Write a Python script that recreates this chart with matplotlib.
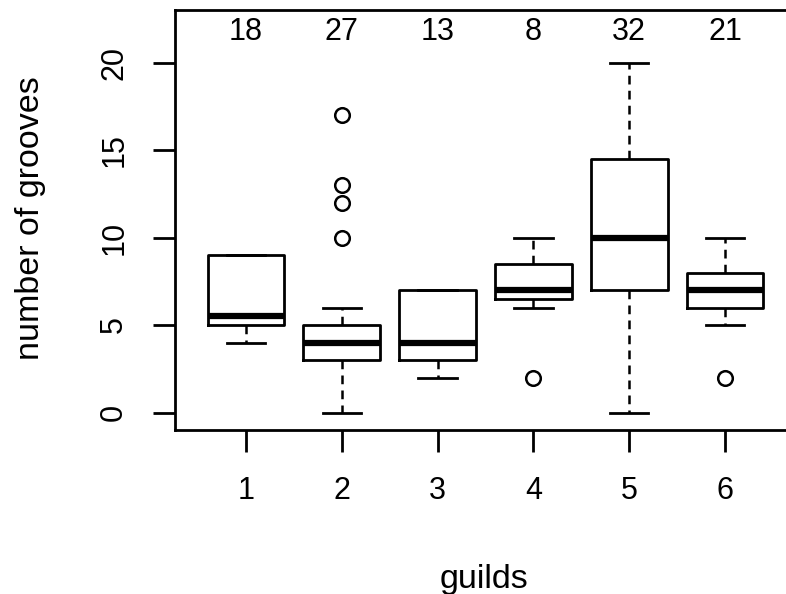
import matplotlib
matplotlib.use('Agg')
import matplotlib.pyplot as plt

plt.rcParams['font.family'] = ['Liberation Sans', 'DejaVu Sans']

# box statistics, one entry per guild
guilds = ['1', '2', '3', '4', '5', '6']
n_obs = [18, 27, 13, 8, 32, 21]
whisk_lo = [4, 0, 2, 6, 0, 5]
q1 = [5, 3, 3, 6.5, 7, 6]
median = [5.5, 4, 4, 7, 10, 7]
q3 = [9, 5, 7, 8.5, 14.5, 8]
whisk_hi = [9, 6, 7, 10, 20, 10]
outliers = [[], [17, 13, 12, 10], [], [2], [], [2]]

stats = []
for i in range(len(guilds)):
    stats.append({'label': guilds[i], 'whislo': whisk_lo[i], 'q1': q1[i], 'med': median[i],
                  'q3': q3[i], 'whishi': whisk_hi[i], 'fliers': outliers[i]})

fig = plt.figure(figsize=(7.86, 5.94), dpi=100)
ax = fig.add_axes([175 / 786, 1 - 430 / 594, 621 / 786, 420 / 594])

ax.bxp(stats, positions=range(1, 7), widths=0.8, capwidths=0.4, showfliers=True,
       boxprops=dict(color='black', linewidth=2),
       medianprops=dict(color='black', linewidth=4.5, solid_capstyle='butt'),
       whiskerprops=dict(color='black', linewidth=1.8, linestyle=(0, (3.5, 2.5))),
       capprops=dict(color='black', linewidth=2),
       flierprops=dict(marker='o', markerfacecolor='none', markeredgecolor='black',
                       markersize=10.5, markeredgewidth=1.8))

# sample sizes above each box
for i in range(len(guilds)):
    ax.text(i + 1, 21.3, str(n_obs[i]), ha='center', va='baseline', fontsize=22)

ax.set_xlim(0.26, 6.74)
ax.set_ylim(-1.0, 23.0)
ax.set_yticks([0, 5, 10, 15, 20])
ax.set_yticklabels(['0', '5', '10', '15', '20'], rotation=90, va='center')
ax.tick_params(axis='both', labelsize=22, length=16, width=2, direction='out')
ax.tick_params(axis='y', pad=17)
ax.tick_params(axis='x', pad=17)
for s in ax.spines.values():
    s.set_linewidth(2)

fig.text(484 / 786, 1 - 588 / 594, 'guilds', ha='center', va='baseline', fontsize=24.5)
fig.text(31 / 786, 1 - 218 / 594, 'number of grooves', ha='center', va='center',
         rotation=90, fontsize=24.5)

fig.savefig('out.png', dpi=100)
plt.close(fig)
